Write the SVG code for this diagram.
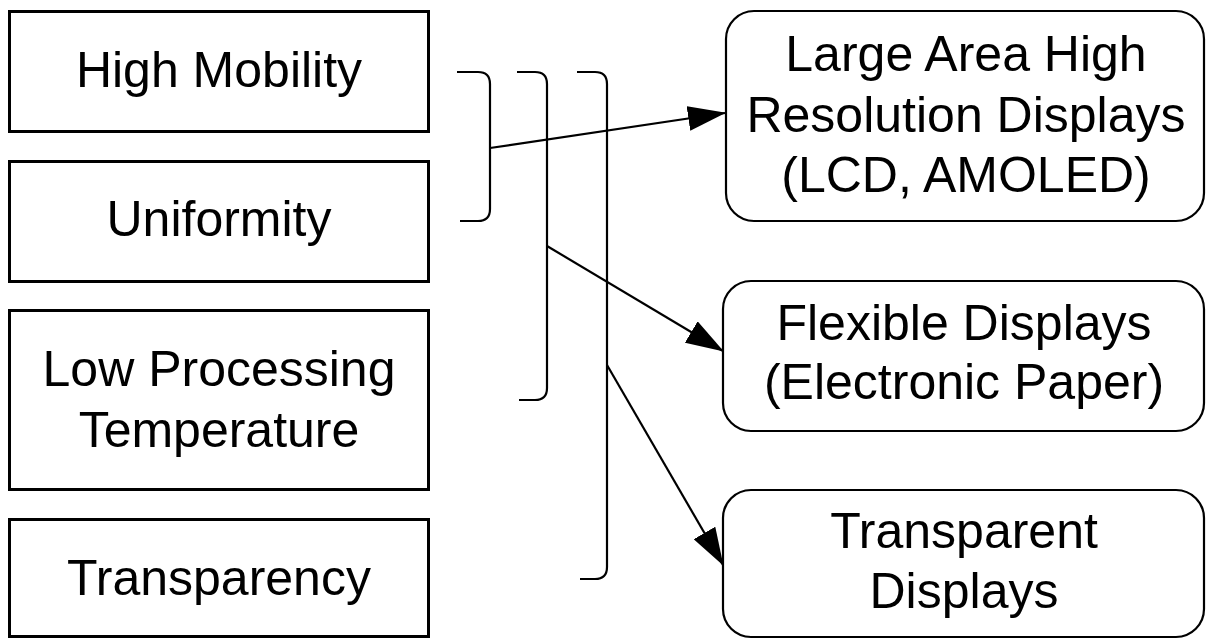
<svg xmlns="http://www.w3.org/2000/svg" width="1208" height="640" viewBox="0 0 1208 640">
<style>
.box{fill:#fff;stroke:#000;stroke-width:3}
.rbox{fill:#fff;stroke:#000;stroke-width:2.2}
.t{font-family:"Liberation Sans",Arial,sans-serif;font-size:50px;fill:#000;text-anchor:middle}
.c{fill:none;stroke:#000;stroke-width:2.2}
</style>
<defs>
<marker id="ah" viewBox="0 0 38 25" refX="37" refY="12.5" markerWidth="38" markerHeight="25" markerUnits="userSpaceOnUse" orient="auto">
<path d="M0,0 L38,12.5 L0,25 z" fill="#000"/>
</marker>
</defs>
<rect width="1208" height="640" fill="#fff"/>
<g id="n-high-mobility"><rect class="box" x="9.5" y="11.5" width="419" height="120"/><text class="t" x="219" y="87">High Mobility</text></g>
<g id="n-uniformity"><rect class="box" x="9.5" y="161.5" width="419" height="120"/><text class="t" x="219" y="236">Uniformity</text></g>
<g id="n-low-temp"><rect class="box" x="9.5" y="310.5" width="419" height="179"/><text class="t" x="219" y="386">Low Processing</text><text class="t" x="219" y="447">Temperature</text></g>
<g id="n-transparency"><rect class="box" x="9.5" y="519.5" width="419" height="117"/><text class="t" x="219" y="595">Transparency</text></g>
<g id="n-large-area"><rect class="rbox" x="726" y="11" width="478" height="210" rx="28" ry="28"/><text class="t" x="966" y="71">Large Area High</text><text class="t" x="966" y="132">Resolution Displays</text><text class="t" x="966" y="192">(LCD, AMOLED)</text></g>
<g id="n-flexible"><rect class="rbox" x="723" y="281" width="481" height="150" rx="28" ry="28"/><text class="t" x="964" y="340">Flexible Displays</text><text class="t" x="964" y="399">(Electronic Paper)</text></g>
<g id="n-transparent"><rect class="rbox" x="723" y="490" width="481" height="147" rx="28" ry="28"/><text class="t" x="964" y="548">Transparent</text><text class="t" x="964" y="608">Displays</text></g>
<g id="connectors">
<path class="c" d="M457,72 H478 Q490,72 490,84 V209 Q490,221 478,221 H460"/>
<path class="c" d="M517,72 H535 Q547,72 547,84 V388 Q547,400 535,400 H519"/>
<path class="c" d="M577,72 H595 Q607,72 607,84 V567 Q607,579 595,579 H580"/>
<line class="c" x1="490" y1="148" x2="725" y2="113" marker-end="url(#ah)"/>
<line class="c" x1="547" y1="246" x2="723" y2="351" marker-end="url(#ah)"/>
<line class="c" x1="607" y1="365" x2="723" y2="565" marker-end="url(#ah)"/>
</g>
</svg>
